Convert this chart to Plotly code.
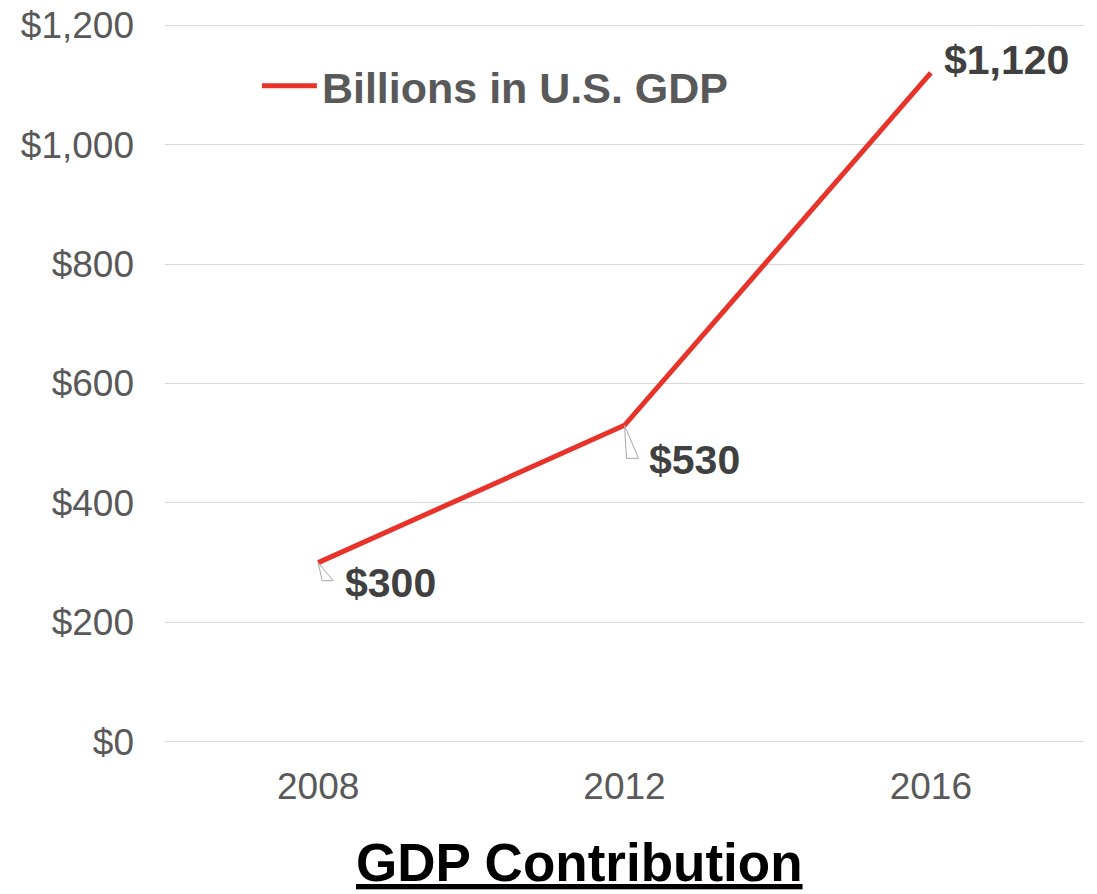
import plotly.graph_objects as go

# GDP contribution by year (billions of U.S. dollars)
years = ["2008", "2012", "2016"]
gdp_billions = [300, 530, 1120]
value_labels = ["$300", "$530", "$1,120"]

y_tick_values = [0, 200, 400, 600, 800, 1000, 1200]
y_tick_labels = ["$0", "$200", "$400", "$600", "$800", "$1,000", "$1,200"]

series_name = "Billions in U.S. GDP"
chart_title = "GDP Contribution"

RED = "#E8332A"
AXIS_GRAY = "#595959"
LABEL_GRAY = "#404040"
GRID = "#D9D9D9"
FONT = "Liberation Sans, Arial, sans-serif"

fig = go.Figure()
fig.add_trace(go.Scatter(
    x=years, y=gdp_billions, mode="lines", name=series_name,
    line=dict(color=RED, width=5),
    showlegend=True,
))

# Data labels placed beside each point (category index keeps numeric-looking
# year strings from being read as positions)
label_offsets = [(72, -20), (70, -35), (76, 13)]
for i, (val, txt, (dx, dy)) in enumerate(zip(gdp_billions, value_labels, label_offsets)):
    fig.add_annotation(
        x=i, y=val, xref="x", yref="y", text="<b>" + txt + "</b>",
        showarrow=False, xshift=dx, yshift=dy,
        font=dict(family=FONT, size=41, color=LABEL_GRAY),
    )

# Small wedge-shaped callout leaders for the first two labels
callout_paths = ["M 0,0 L 4,-18 L 15,-18 Z", "M 0,0 L 2,-33 L 14,-33 Z"]
for i, (val, path) in enumerate(zip(gdp_billions[:2], callout_paths)):
    fig.add_shape(
        type="path", xref="x", yref="y",
        xsizemode="pixel", ysizemode="pixel",
        xanchor=i, yanchor=val, path=path,
        line=dict(color="#A6A6A6", width=1), fillcolor="rgba(255,255,255,0.9)",
    )

fig.update_layout(
    width=1097, height=894,
    margin=dict(l=165, r=13, t=24, b=151, autoexpand=False),
    paper_bgcolor="white", plot_bgcolor="white",
    font=dict(family=FONT, color=AXIS_GRAY),
    showlegend=True,
    legend=dict(
        x=0.1, y=0.914, xanchor="left", yanchor="middle",
        bgcolor="rgba(0,0,0,0)",
        font=dict(family=FONT, size=43, color=AXIS_GRAY, weight="bold"),
        itemwidth=55,
    ),
    xaxis=dict(
        type="category", range=[-0.5, 2.5], automargin=False,
        showgrid=False, showline=False, zeroline=False,
        ticks="", tickfont=dict(family=FONT, size=37, color=AXIS_GRAY),
        ticklabelstandoff=18,
    ),
    yaxis=dict(
        range=[-2, 1202], tickvals=y_tick_values, ticktext=y_tick_labels,
        automargin=False,
        showgrid=True, gridcolor=GRID, gridwidth=1.3,
        zeroline=False, showline=False, ticks="",
        tickfont=dict(family=FONT, size=37, color=AXIS_GRAY),
        ticklabelstandoff=30,
    ),
)

# Underlined chart title below the axis
fig.add_annotation(
    x=0.451, y=0, xref="paper", yref="paper", yanchor="middle",
    yshift=-119,
    text="<b><u>" + chart_title + "</u></b>", showarrow=False,
    font=dict(family=FONT, size=53, color="black"),
)

fig.write_html("out.html")
